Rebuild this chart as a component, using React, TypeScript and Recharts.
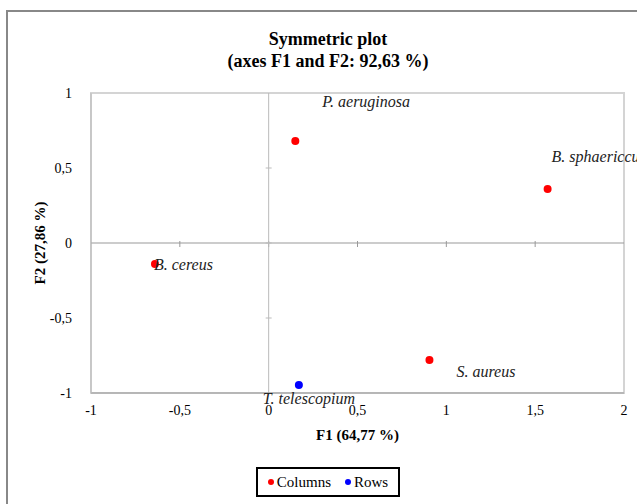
import React from 'react';
import { ScatterChart, Scatter, XAxis, YAxis, ReferenceLine, ReferenceArea } from 'recharts';

// Column points (bacteria)
const COLUMN_NAMES = ['P. aeruginosa', 'B. sphaericcus', 'B. cereus', 'S. aureus'];
const COLUMN_F1 = [0.15, 1.57, -0.64, 0.905];
const COLUMN_F2 = [0.68, 0.36, -0.14, -0.78];

// Row points
const ROW_NAMES = ['T. telescopium'];
const ROW_F1 = [0.17];
const ROW_F2 = [-0.947];

const X_TICKS = [-1, -0.5, 0, 0.5, 1, 1.5, 2];
const Y_TICKS = [-1, -0.5, 0, 0.5, 1];

// label placement relative to the point (left x, baseline y)
const LABEL_OFFSET: Record<string, [number, number]> = {
  'P. aeruginosa': [27, -34],
  'B. sphaericcus': [4, -27],
  'B. cereus': [-1, 6],
  'S. aureus': [27, 17],
  'T. telescopium': [-36, 19],
};

const columns = COLUMN_NAMES.map((name, i) => ({ name, x: COLUMN_F1[i], y: COLUMN_F2[i] }));
const rows = ROW_NAMES.map((name, i) => ({ name, x: ROW_F1[i], y: ROW_F2[i] }));

const SERIF = '"Liberation Serif", "Times New Roman", serif';
const fmt = (v: number) => String(v).replace('.', ',');

const makeShape = (color: string) => (props: any) => {
  const { cx, cy, payload } = props;
  const off = LABEL_OFFSET[payload.name] || [6, -6];
  return (
    <g>
      <circle cx={cx} cy={cy} r={4} fill={color} />
      <text x={cx + off[0]} y={cy + off[1]} fontFamily={SERIF} fontStyle="italic" fontSize={16} fill="#222">
        {payload.name}
      </text>
    </g>
  );
};

// zero line with small cross ticks
const HLine = (props: any) => {
  const { x1, x2, y1 } = props;
  const lo = X_TICKS[0], hi = X_TICKS[X_TICKS.length - 1];
  return (
    <g>
      <line x1={x1} x2={x2} y1={y1} y2={y1} stroke="#999" strokeWidth={1} />
      {X_TICKS.slice(1, -1).map((t) => {
        const px = x1 + ((t - lo) / (hi - lo)) * (x2 - x1);
        return <line key={t} x1={px} x2={px} y1={y1 - 2} y2={y1 + 4} stroke="#999" />;
      })}
    </g>
  );
};

const VLine = (props: any) => {
  const { x1, y1, y2 } = props;
  const lo = Y_TICKS[0], hi = Y_TICKS[Y_TICKS.length - 1];
  const top = Math.min(y1, y2), bottom = Math.max(y1, y2);
  return (
    <g>
      <line x1={x1} x2={x1} y1={top} y2={bottom} stroke="#bbb" strokeWidth={1} />
      {Y_TICKS.slice(1, -1).map((t) => {
        const py = bottom - ((t - lo) / (hi - lo)) * (bottom - top);
        return <line key={t} x1={x1 - 3} x2={x1 + 3} y1={py} y2={py} stroke="#bbb" />;
      })}
    </g>
  );
};

const SERIES = [
  { name: 'Columns', color: 'red' },
  { name: 'Rows', color: 'blue' },
];

export default function App() {
  return (
    <div style={{ position: 'absolute', left: 0, top: 0, width: 637, height: 504, overflow: 'hidden', background: '#fff' }}>
      <div style={{ position: 'absolute', left: 6, top: 10, width: 700, height: 600, border: '2px solid #888', boxSizing: 'border-box' }} />
      <div style={{ position: 'absolute', left: 128, width: 400, top: 28, textAlign: 'center', fontFamily: SERIF, fontWeight: 'bold', fontSize: 18, lineHeight: '22px', color: '#000' }}>
        <div>Symmetric plot</div>
        <div>(axes F1 and F2: 92,63 %)</div>
      </div>
      <div style={{ position: 'absolute', left: 0, top: 0 }}>
        <ScatterChart width={637} height={504} margin={{ top: 93, right: 13, left: 0, bottom: 0 }}>
          <ReferenceArea x1={-1} x2={2} y1={-1} y2={1} fill="none" stroke="#d4d4d4" strokeWidth={2} />
          <XAxis
            type="number"
            dataKey="x"
            domain={[-1, 2]}
            ticks={X_TICKS}
            tickFormatter={fmt}
            tickLine={false}
            axisLine={{ stroke: '#999' }}
            tickMargin={6}
            height={111}
            tick={{ fontFamily: SERIF, fontSize: 14, fill: '#000' }}
            label={{ value: 'F1 (64,77 %)', position: 'insideTop', offset: 36, style: { fontFamily: SERIF, fontSize: 15, fontWeight: 'bold', fill: '#000' } }}
          />
          <YAxis
            type="number"
            dataKey="y"
            domain={[-1, 1]}
            ticks={Y_TICKS}
            tickFormatter={fmt}
            tickLine={false}
            axisLine={{ stroke: '#bbb' }}
            tickMargin={13}
            width={91}
            tick={{ fontFamily: SERIF, fontSize: 14, fill: '#000' }}
            label={{ value: 'F2 (27,86 %)', angle: -90, position: 'insideLeft', offset: 40, style: { fontFamily: SERIF, fontSize: 15, fontWeight: 'bold', fill: '#000', textAnchor: 'middle' } }}
          />
          <ReferenceLine y={0} shape={HLine} />
          <ReferenceLine x={0} shape={VLine} />
          <Scatter name="Columns" data={columns} fill="red" shape={makeShape('red')} isAnimationActive={false} />
          <Scatter name="Rows" data={rows} fill="blue" shape={makeShape('blue')} isAnimationActive={false} />
        </ScatterChart>
      </div>
      <div
        style={{
          position: 'absolute',
          left: 256,
          top: 467,
          width: 144,
          height: 30,
          border: '2px solid #000',
          boxSizing: 'border-box',
          display: 'flex',
          alignItems: 'center',
          justifyContent: 'center',
          gap: 14,
          fontFamily: SERIF,
          fontSize: 15,
          color: '#000',
        }}
      >
        {SERIES.map((s) => (
          <span key={s.name} style={{ display: 'flex', alignItems: 'center' }}>
            <span style={{ display: 'inline-block', width: 6, height: 6, borderRadius: 3, background: s.color, marginRight: 3 }} />
            {s.name}
          </span>
        ))}
      </div>
    </div>
  );
}
